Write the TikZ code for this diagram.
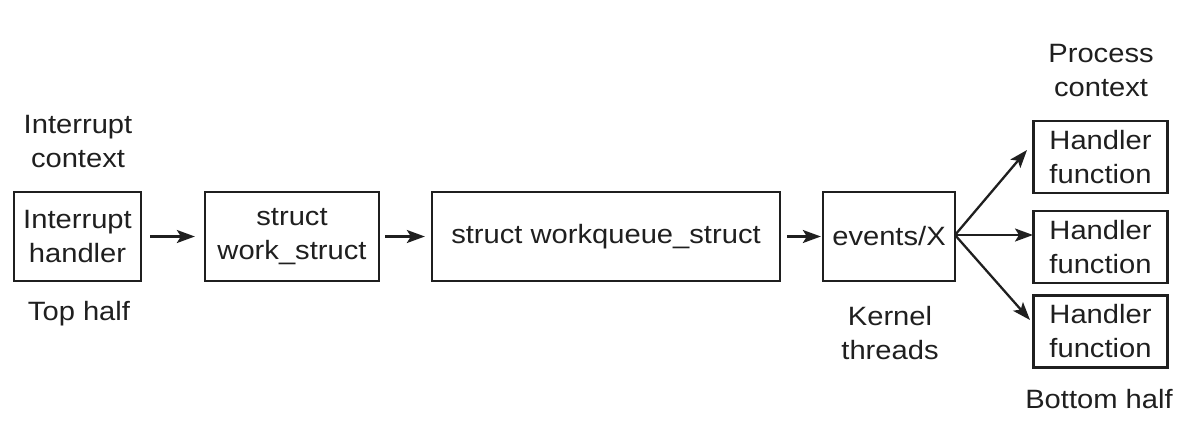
\documentclass[tikz,border=0pt]{standalone}
\usepackage{fontspec}
\setmainfont{Liberation Sans}[FakeStretch=1.1]
\usetikzlibrary{arrows.meta}
\definecolor{ink}{gray}{0.12}
\begin{document}
\begin{tikzpicture}[x=1pt,y=-1pt,
  every node/.style={font=\fontsize{26.5}{34}\selectfont, text=ink, align=center, inner sep=0pt},
  box/.style={draw=ink, line width=2.3pt},
  lbl/.style={},
  arr/.style={draw=ink, line width=2.3pt, -{Stealth[length=18pt,width=13pt,inset=4pt]}}]
\useasboundingbox (0,0) rectangle (1180,432);
% boxes
\node[box, minimum width=127pt, minimum height=89pt] (ih) at (77.5,236.5) {Interrupt\\handler};
\node[box, minimum width=174pt, minimum height=89pt] (ws) at (292,236.5) {struct\\work\_struct};
\node[box, minimum width=348pt, minimum height=89pt] (wq) at (606,236.5) {struct workqueue\_struct};
\node[box, minimum width=132pt, minimum height=89pt] (ev) at (889,236.5) {events/X};
\node[box, minimum width=134pt, minimum height=72pt] (h1) at (1100.5,157) {Handler\\function};
\node[box, minimum width=134pt, minimum height=72pt] (h2) at (1100.5,247) {Handler\\function};
\node[box, minimum width=134pt, minimum height=72pt] (h3) at (1100.5,331.5) {Handler\\function};
% labels
\node[lbl] (ic) at (78,141.7) {Interrupt\\context};
\node[lbl, anchor=base] (th) at (79,320) {Top half};
\node[lbl] (pc) at (1101,70.7) {Process\\context};
\node[lbl] (kt) at (890,332.7) {Kernel\\threads};
\node[lbl, anchor=base] (bh) at (1099,408) {Bottom half};
% arrow end points
\coordinate (ev1) at (955,235);
\coordinate (t1) at (1027,150);
\coordinate (t2) at (1033,235);
\coordinate (t3) at (1030,320);
% arrows
\draw[arr, shorten <=8pt, shorten >=9pt] (ih) -- (ws);
\draw[arr, shorten <=5pt, shorten >=6pt] (ws) -- (wq);
\draw[arr, shorten <=6pt, shorten >=1pt] (wq) -- (ev);
\draw[arr] (ev1) -- (t1);
\draw[arr] (ev1) -- (t2);
\draw[arr] (ev1) -- (t3);
\end{tikzpicture}
\end{document}
